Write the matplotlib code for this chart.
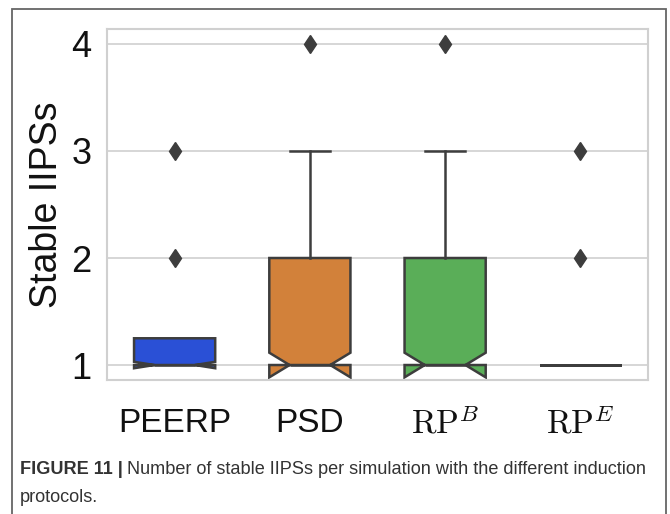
import matplotlib
matplotlib.use("Agg")
import matplotlib.pyplot as plt
from matplotlib import font_manager
from matplotlib.patches import Rectangle

# ---- data ----
categories = ['PEERP', 'PSD', r'$\mathrm{RP}^{B}$', r'$\mathrm{RP}^{E}$']
q1 = [1.0, 1.0, 1.0, 1.0]
med = [1.0, 1.0, 1.0, 1.0]
q3 = [1.25, 2.0, 2.0, 1.0]
whislo = [1.0, 1.0, 1.0, 1.0]
whishi = [1.25, 3.0, 3.0, 1.0]
cilo = [0.97, 0.885, 0.885, 1.0]
cihi = [1.03, 1.115, 1.115, 1.0]
fliers = [[2, 3], [4], [4], [2, 3]]
yticks = [1, 2, 3, 4]
colors = ['#2a50d6', '#d2813a', '#5aae58', '#c44e52']

plt.rcParams['font.family'] = ['Liberation Sans', 'DejaVu Sans']
plt.rcParams['mathtext.fontset'] = 'cm'

W, H = 670, 514
fig = plt.figure(figsize=(W / 100, H / 100), dpi=100)
ax = fig.add_axes([107 / W, 1 - 380 / H, (648 - 107) / W, (380 - 29) / H])

stats = []
for i in range(len(categories)):
    stats.append(dict(med=med[i], q1=q1[i], q3=q3[i], whislo=whislo[i], whishi=whishi[i],
                      cilo=cilo[i], cihi=cihi[i], fliers=fliers[i]))

lc = '#3d3d3d'
lw = 1.8
bp = ax.bxp(stats, positions=range(len(categories)), widths=0.6, shownotches=True,
            patch_artist=True,
            boxprops=dict(edgecolor=lc, linewidth=lw),
            medianprops=dict(color=lc, linewidth=lw),
            whiskerprops=dict(color=lc, linewidth=lw),
            capprops=dict(color=lc, linewidth=lw),
            flierprops=dict(marker='d', markerfacecolor=lc, markeredgecolor=lc,
                            markersize=9.5, linestyle='none'))
for patch, c in zip(bp['boxes'], colors):
    patch.set_facecolor(c)
    patch.set_zorder(2)
for k in ['medians', 'whiskers', 'caps', 'fliers']:
    for a in bp[k]:
        a.set_zorder(3)
# caps that coincide with box edges (zero-length whiskers) are hidden like seaborn
for i, (cap_lo, cap_hi) in enumerate(zip(bp['caps'][0::2], bp['caps'][1::2])):
    if whishi[i] == q3[i]:
        cap_hi.set_visible(False)
    if whislo[i] == q1[i]:
        cap_lo.set_visible(False)

ax.set_xlim(-0.5, len(categories) - 0.5)
ax.set_ylim(0.86, 4.14)
ax.set_yticks(yticks)
ax.set_yticklabels([str(t) for t in yticks], fontsize=26)
ax.set_xticks(range(len(categories)))
ax.set_xticklabels(categories, fontsize=24)
ax.tick_params(axis='both', length=0, colors='#111111')
ax.tick_params(axis='y', pad=11)
ax.tick_params(axis='x', pad=20)
ax.yaxis.grid(True, color='#d0d0d0', linewidth=1.2, zorder=0)
ax.xaxis.grid(False)
ax.set_axisbelow(True)
for s in ax.spines.values():
    s.set_color('#d0d0d0')
    s.set_linewidth(1.5)
ax.set_ylabel('Stable IIPSs', fontsize=27, color='#111111', labelpad=5)

# outer frame
fig.patches.append(Rectangle((12 / W, -0.1), (666 - 12) / W, 1.1 - 9 / H,
                             transform=fig.transFigure, fill=False,
                             edgecolor='#666666', linewidth=1.3))

# caption, sized so that the first line spans the frame width
cap_col = '#333333'
cap_fs = 14.0
t1 = fig.text(20 / W, 1 - 470 / H, 'FIGURE 11 |', fontsize=cap_fs, fontweight='bold',
              color=cap_col, va='center', ha='left')
t2 = fig.text(0, 1 - 470 / H,
              'Number of stable IIPSs per simulation with the different induction',
              fontsize=cap_fs, color=cap_col, va='center', ha='left')
t3 = fig.text(20 / W, 1 - 497 / H, 'protocols.', fontsize=cap_fs,
              color=cap_col, va='center', ha='left')
fig.canvas.draw()
r = fig.canvas.get_renderer()
w1 = t1.get_window_extent(renderer=r).width
w2 = t2.get_window_extent(renderer=r).width
scale = (652 - 20) / (w1 + 5 + w2)
cap_fs *= scale
for t in (t1, t2, t3):
    t.set_fontsize(cap_fs)
fig.canvas.draw()
bb = t1.get_window_extent(renderer=r)
t2.set_x((bb.x1 + 4) / W)

fig.savefig('out.png', dpi=100)
